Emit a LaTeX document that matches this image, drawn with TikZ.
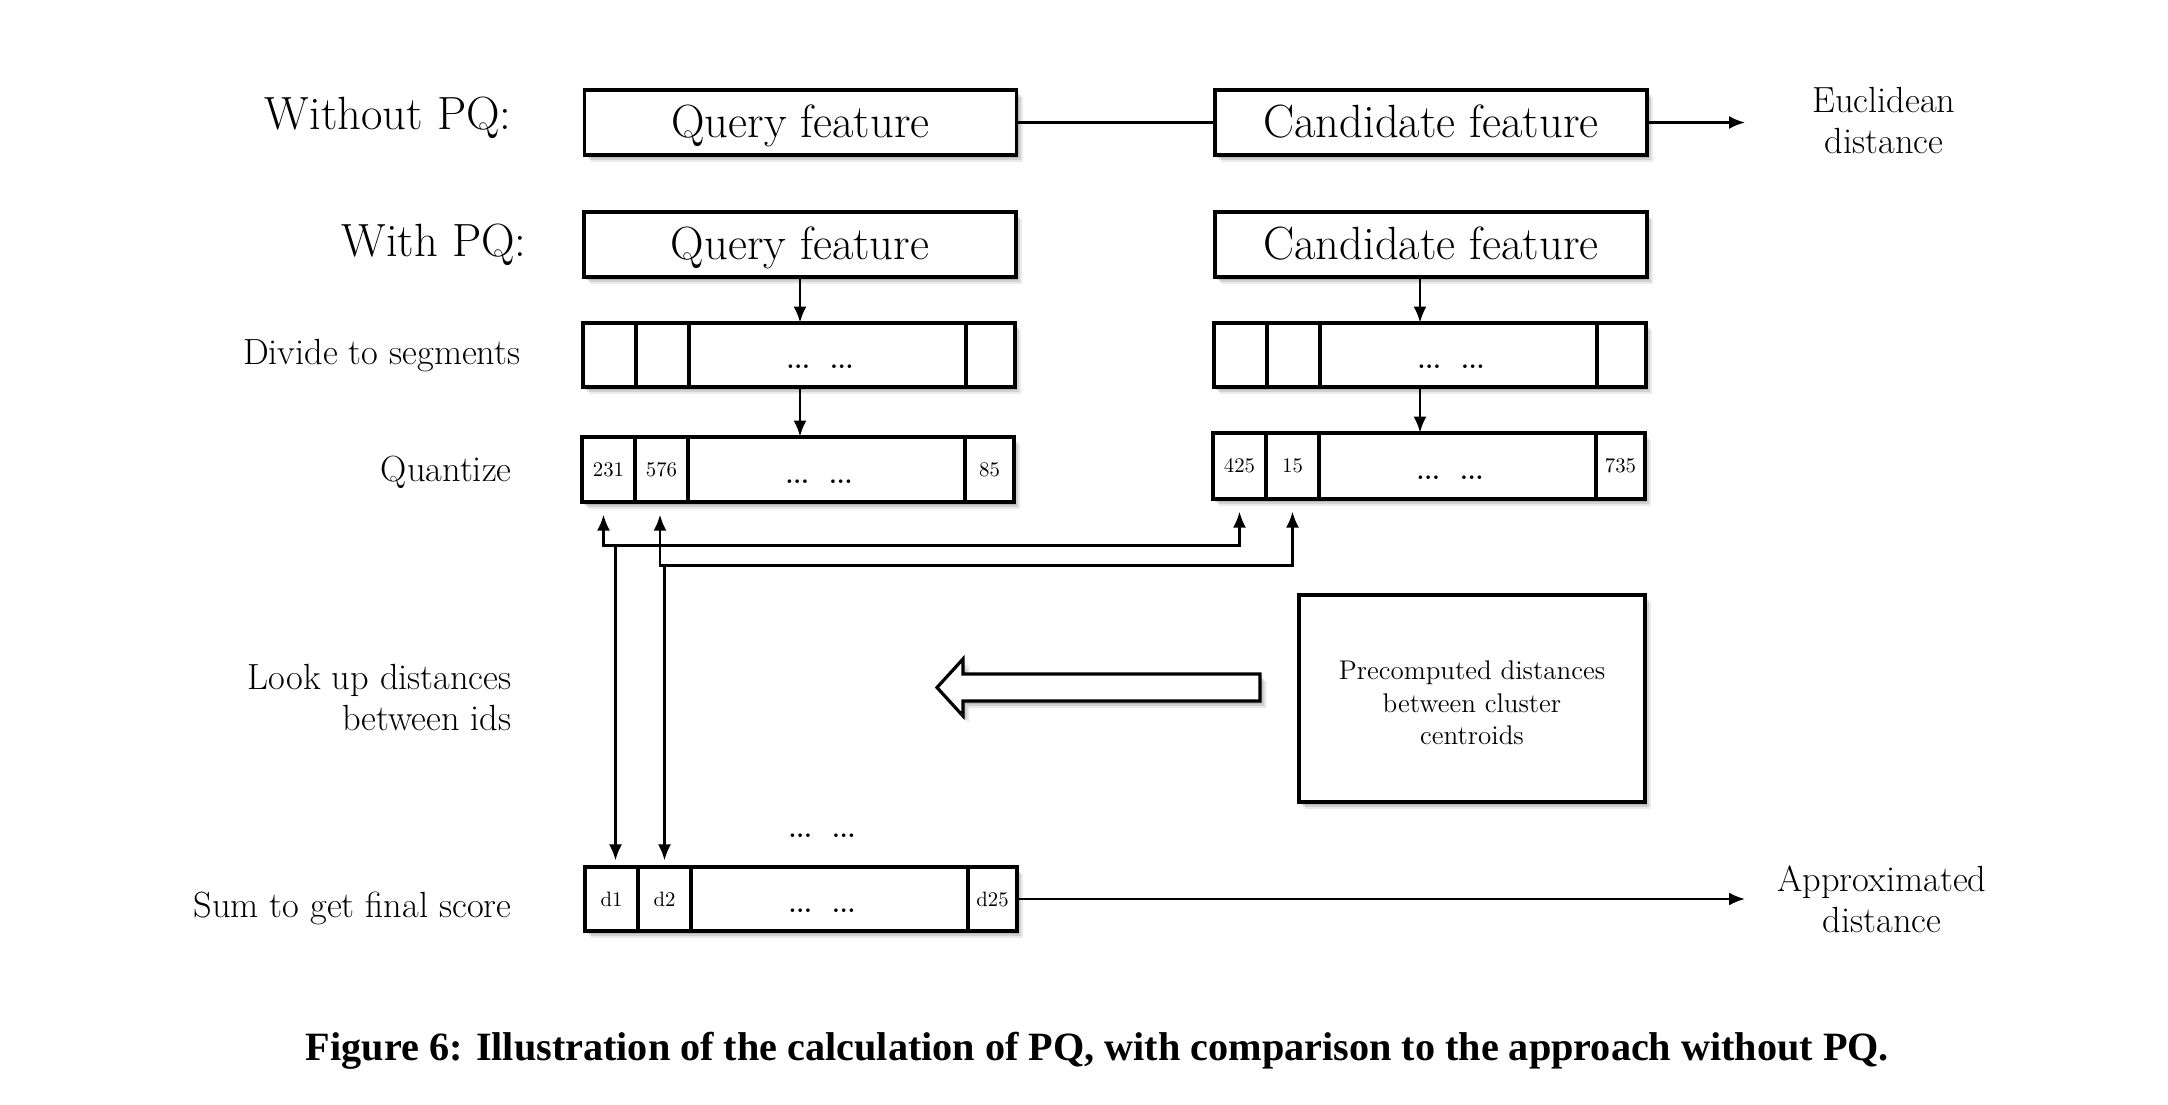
\documentclass[tikz,border=0pt]{standalone}
\usepackage{fontspec}
\usepackage{graphicx}
\newfontfamily\capfont{Liberation Serif}
\usetikzlibrary{arrows.meta,shadows,calc}
\newcommand\myBig{\fontsize{23.3pt}{28pt}\selectfont}
\newcommand\myMid{\fontsize{18.2pt}{20.5pt}\selectfont}
\newcommand\myPre{\fontsize{13.5pt}{16.3pt}\selectfont}
\newcommand\myNum{\fontsize{10.4pt}{12pt}\selectfont}
\newcommand\myDots{\fontsize{12.5pt}{14pt}\selectfont\bfseries}
\tikzset{
  softshadow/.style={
    general shadow={fill=black,opacity=0.13,shadow xshift=1.2pt,shadow yshift=-1.5pt},
    general shadow={fill=black,opacity=0.11,shadow xshift=2.2pt,shadow yshift=-2.6pt},
    general shadow={fill=black,opacity=0.08,shadow xshift=3.2pt,shadow yshift=-3.6pt}},
  featbox/.style={draw,line width=1.6pt,fill=white,softshadow,inner sep=0pt,
    minimum width=216pt,minimum height=32.5pt,font=\myBig,text height=18.3pt,text depth=3.8pt},
  rowbg/.style={fill=white,softshadow,inner sep=0pt,minimum width=216pt},
  cellbox/.style={draw,line width=1.6pt,inner sep=0pt,font=\myNum},
  dotstext/.style={inner sep=0pt,font=\myDots},
  lbl/.style={inner sep=0pt},
  conn/.style={line width=1.2pt},
  arr/.style={-{Latex[length=8pt,width=6.5pt]}},
  arrboth/.style={{Latex[length=8pt,width=6.5pt]}-{Latex[length=8pt,width=6.5pt]}},
  bigarrow/.style={draw,line width=1.6pt,fill=white,softshadow,line join=miter}
}
% #1 prefix, #2 left x, #3 centre y, #4 height (px), #5 #6 #7 texts
\newcommand\segrow[7]{%
  \node[rowbg,minimum height={#4*0.5pt}] (#1) at ({#2+216},#3) {};
  \node[cellbox,minimum width=26.5pt,minimum height={#4*0.5pt}] (#1-1) at ({#2+26.5},#3) {#5};
  \node[cellbox,minimum width=26.5pt,minimum height={#4*0.5pt}] (#1-2) at ({#2+79.5},#3) {#6};
  \node[cellbox,minimum width=138.5pt,minimum height={#4*0.5pt}] (#1-3) at ({#2+244.5},#3) {};
  \node[cellbox,minimum width=24.5pt,minimum height={#4*0.5pt}] (#1-4) at ({#2+407.5},#3) {#7};
  \node[dotstext] (#1-d) at ({#2+237},{#3+12}) {...\hspace{10pt}...};
}
\begin{document}
\begin{tikzpicture}[x=0.5pt,y=-0.5pt]
\useasboundingbox (0,0) rectangle (2168,1104);

% left labels
\node[lbl,anchor=base east,font=\myBig] (lWithout) at (512,129) {Without PQ:};
\node[lbl,anchor=base east,font=\myBig] (lWith) at (527,256) {With PQ:};
\node[lbl,anchor=base east,font=\myMid] (lDiv) at (521,364) {Divide to segments};
\node[lbl,anchor=base east,font=\myMid] (lQuant) at (512,481) {Quantize};
\node[lbl,anchor=base east,font=\myMid,align=right] (lLook) at (512,730) {Look up distances\\between ids};
\node[lbl,anchor=base east,font=\myMid] (lSum) at (512,917) {Sum to get final score};

% row 1
\node[featbox] (Q1) at (800.5,122.5) {Query feature};
\node[featbox] (C1) at (1431,122.5) {Candidate feature};
\coordinate (eucEnd) at (1745,122.5);
\draw[conn] (Q1.east) -- (C1.west);
\draw[conn,arr] (C1.east) -- (eucEnd);
\node[lbl,anchor=base,font=\myMid,align=center] (lEuc) at (1884,153) {Euclidean\\distance};

% row 2
\node[featbox] (Q2) at (800,244.5) {Query feature};
\node[featbox] (C2) at (1431,244.5) {Candidate feature};

% segment rows
\segrow{dL}{583}{355}{64}{}{}{}
\segrow{dR}{1214}{355}{64}{}{}{}
\segrow{qL}{582}{469.5}{65}{231}{576}{85}
\segrow{qR}{1213}{466}{66}{425}{15}{735}
\segrow{sum}{585}{899}{64}{d1}{d2}{d25}

% vertical arrows
\draw[conn,arr] (Q2.south) -- (Q2.south |- dL.north);
\draw[conn,arr] (Q2.south |- dL.south) -- (Q2.south |- qL.north);
\draw[conn,arr] ([xshift=-5.5pt]C2.south) -- ([xshift=-5.5pt]C2.south |- dR.north);
\draw[conn,arr] ([xshift=-5.5pt]C2.south |- dR.south) -- ([xshift=-5.5pt]C2.south |- qR.north);

% look-up connectors
\coordinate (hA) at ($(qR-1.south)+(0,45)$);
\coordinate (hC) at ($(qR-2.south)+(0,65)$);
\draw[conn,arrboth] ($(qL-1.south)+(-5,11)$) |- (hA) -- ($(qR-1.south)+(0,11)$);
\draw[conn,arrboth] ($(qL-2.south)+(-1.5,11)$) |- (hC) -- ($(qR-2.south)+(0,11)$);
\draw[conn,arr] ([xshift=2pt]sum-1.north |- hA) -- ([xshift=2pt,yshift=2.5pt]sum-1.north);
\draw[conn,arr] (sum-2.north |- hC) -- ([yshift=2.5pt]sum-2.north);

% dots above sum row
\node[dotstext] (sumdots) at (822,836) {...\hspace{10pt}...};

% precomputed box and hollow arrow
\node[draw,line width=1.6pt,fill=white,softshadow,minimum width=173pt,minimum height=103.5pt,inner sep=0pt] (pre) at (1472,698.5) {};
\node[lbl,font=\myPre,align=center] (preText) at (1472,703) {Precomputed distances\\between cluster\\centroids};
\path[bigarrow] (1260,674) -- (963,674) -- (963,659) -- (937,687.5) -- (963,716) -- (963,701) -- (1260,701) -- cycle;

% final output
\coordinate (apxEnd) at (1745,899);
\draw[conn,arr] (sum-4.east) -- (apxEnd);
\node[lbl,anchor=base,font=\myMid,align=center] (lApx) at (1882,932) {Approximated\\distance};

% caption
\node[lbl,anchor=base] (cap) at (1097.5,1060) {\resizebox{791.5pt}{!}{\capfont\fontsize{19pt}{22pt}\selectfont\bfseries Figure 6: Illustration of the calculation of PQ, with comparison to the approach without PQ.}};
\end{tikzpicture}
\end{document}
